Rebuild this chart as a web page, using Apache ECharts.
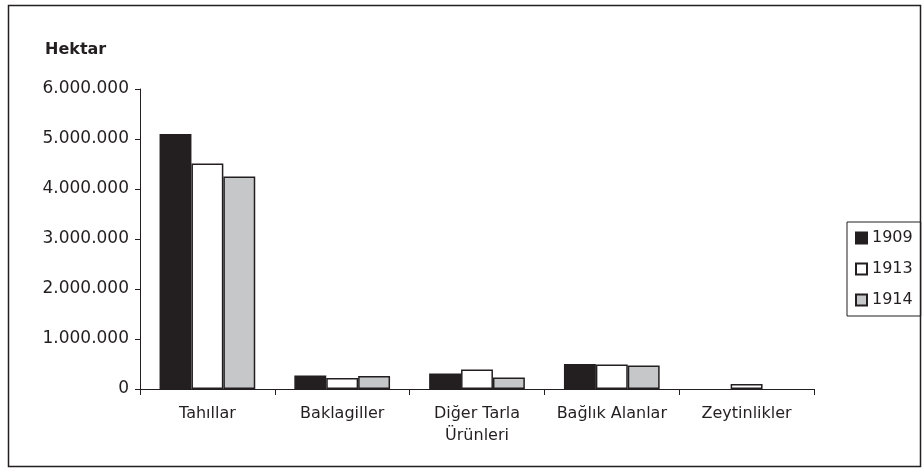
<!DOCTYPE html>
<html><head><meta charset="utf-8">
<script src="https://cdn.jsdelivr.net/npm/echarts@6/dist/echarts.min.js"></script>
<style>html,body{margin:0;padding:0;background:#fff}#c{width:923px;height:475px}</style>
</head><body><div id="c"></div>
<script>
const categories = ['Tahıllar', 'Baklagiller', 'Diğer Tarla\nÜrünleri', 'Bağlık Alanlar', 'Zeytinlikler'];
const years = ['1909', '1913', '1914'];
const v1909 = [5100000, 270000, 310000, 500000, null];
const v1913 = [4510000, 220000, 390000, 490000, 100000];
const v1914 = [4250000, 260000, 230000, 470000, null];
const yTicks = [0, 1000000, 2000000, 3000000, 4000000, 5000000, 6000000];

const fillColors = ['#231f20', '#ffffff', '#c6c7c8'];
const font = 'DejaVu Sans, sans-serif';
const chart = echarts.init(document.getElementById('c'));
function fmt(v){ return String(v).replace(/\B(?=(\d{3})+(?!\d))/g, '.'); }
const seriesData = [v1909, v1913, v1914];
chart.setOption({
  animation: false,
  textStyle: {fontFamily: font},
  graphic: [
    {type: 'rect', shape: {x: 8.5, y: 5.5, width: 912, height: 461}, style: {fill: 'none', stroke: '#231f20', lineWidth: 1.5}, z: -1},
    {type: 'text', left: 45, top: 42, style: {text: 'Hektar', font: 'bold 16px DejaVu Sans', fill: '#231f20'}}
  ],
  grid: {left: 140, right: 109, top: 89, bottom: 86},
  legend: {
    orient: 'vertical', left: 847, top: 222, itemWidth: 11, itemHeight: 11, itemGap: 15, icon: 'rect',
    padding: [8, 8, 8, 8], borderColor: '#231f20', borderWidth: 1,
    textStyle: {fontSize: 16, color: '#231f20', fontFamily: font},
    data: years
  },
  xAxis: {
    type: 'category', data: categories,
    axisLine: {lineStyle: {color: '#231f20', width: 1}},
    axisTick: {show: true, length: 6, alignWithLabel: false, lineStyle: {color: '#231f20'}},
    axisLabel: {interval: 0, fontSize: 16, color: '#231f20', margin: 14, lineHeight: 22, fontFamily: font}
  },
  yAxis: {
    type: 'value', min: 0, max: 6000000, interval: 1000000,
    axisLine: {show: true, lineStyle: {color: '#231f20', width: 1}},
    axisTick: {show: true, length: 5, lineStyle: {color: '#231f20'}},
    splitLine: {show: false},
    axisLabel: {fontSize: 17, color: '#231f20', margin: 11, formatter: v => fmt(v), fontFamily: font}
  },
  series: years.map((y, i) => ({
    name: y, type: 'bar', data: seriesData[i],
    barGap: '0%', barCategoryGap: '29%',
    itemStyle: {color: fillColors[i], borderColor: '#231f20', borderWidth: 1.5}
  }))
});
</script></body></html>
